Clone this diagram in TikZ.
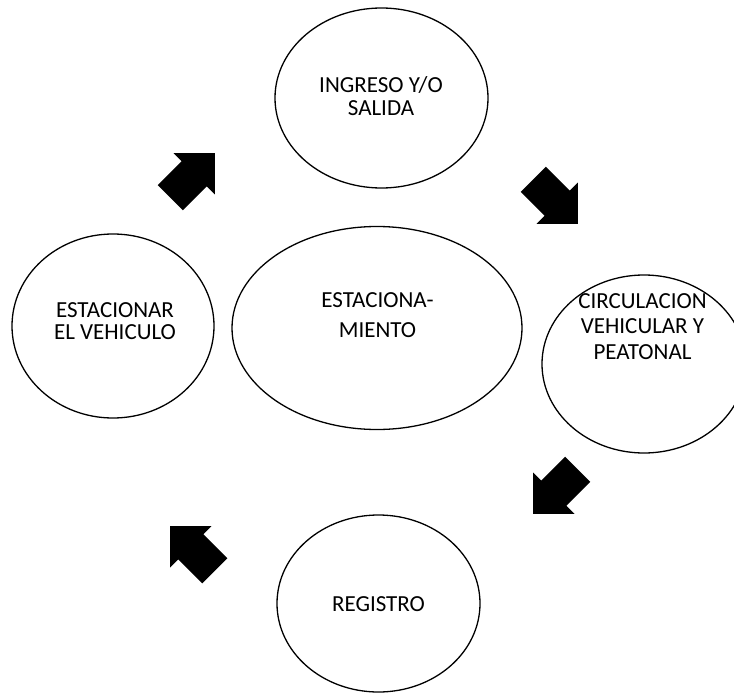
\documentclass[tikz,border=0pt]{standalone}
\usepackage{fontspec}
\setmainfont{Carlito}
\usetikzlibrary{shapes.geometric,shapes.arrows}

\tikzset{
  circ/.style={draw,ellipse,line width=1.3pt,inner sep=0pt},
  lbl/.style={align=center,inner sep=0pt,font=\fontsize{23}{23}\selectfont},
  blockarrow/.style={single arrow,fill=black,draw=none,
    inner xsep=0pt,inner ysep=17.5pt,minimum height=63pt,
    single arrow head extend=11.5pt,anchor=tip}
}

\begin{document}
\begin{tikzpicture}[x=1pt,y=-1pt]
        \useasboundingbox (0,0) rectangle (734,693);
        \clip (0,0) rectangle (734,693);
        % ellipses
        \node[circ,minimum width=213pt,minimum height=180pt] (ingreso) at (381.5,98) {};
        \node[circ,minimum width=202pt,minimum height=184pt] (estacionar) at (113,326) {};
        \node[circ,minimum width=290pt,minimum height=203pt] (centro) at (377,328) {};
        \node[circ,minimum width=204pt,minimum height=178pt] (circulacion) at (644,364) {};
        \node[circ,minimum width=203pt,minimum height=177pt] (registro) at (378.5,603.5) {};
        % texts
        \node[lbl] (ingresotxt) at (381,96) {INGRESO Y/O\\SALIDA};
        \node[lbl,font=\fontsize{23}{22}\selectfont] (estacionartxt) at (115,321)
          {ESTACIONAR\\EL VEHICULO};
        \node[lbl,font=\fontsize{23}{30}\selectfont] (centrotxt) at (377.5,315.5)
          {ESTACIONA-\\MIENTO};
        \node[lbl,font=\fontsize{23}{25.5}\selectfont] (circulaciontxt) at (642.5,326.5)
          {CIRCULACION\\VEHICULAR Y\\PEATONAL};
        \node[lbl] (registrotxt) at (378.5,604) {REGISTRO};
        % block arrows
        \node[blockarrow,rotate=45] (flechaA) at (215,153) {};
        \node[blockarrow,rotate=-45] (flechaB) at (578,224) {};
        \node[blockarrow,rotate=-135] (flechaC) at (533,514) {};
        \node[blockarrow,rotate=135] (flechaD) at (170,526) {};
\end{tikzpicture}
\end{document}
